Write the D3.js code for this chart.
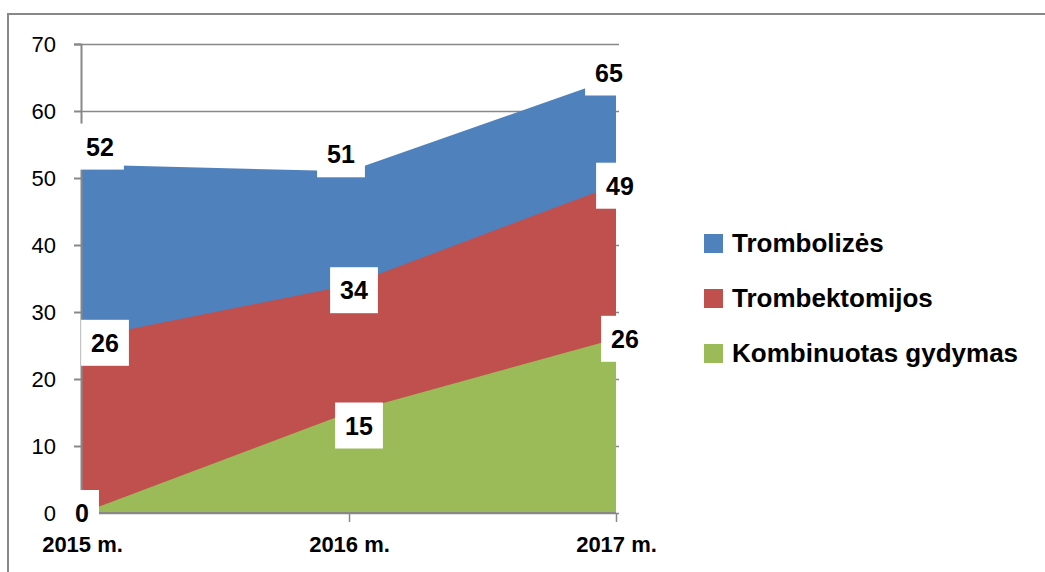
<!DOCTYPE html>
<html>
<head>
<meta charset="utf-8">
<script src="https://cdn.jsdelivr.net/npm/d3@7"></script>
<style>
  body { margin: 0; background: #fff; }
  svg { display: block; font-family: "Liberation Sans", Arial, sans-serif; }
</style>
</head>
<body>
<svg id="chart" width="1045" height="572"></svg>
<script>
// data
var years = ["2015 m.", "2016 m.", "2017 m."];
var seriesNames = ["Trombolizės", "Trombektomijos", "Kombinuotas gydymas"];
var trombolizes = [52, 51, 65];
var trombektomijos = [26, 34, 49];
var kombinuotas = [0, 15, 26];
var yTicks = [0, 10, 20, 30, 40, 50, 60, 70];

var colors = ["#4F81BD", "#C0504D", "#9BBB59"];

// label box nudges from the point, [dx, dy] per series per year
var nudges = [
	[[18, -18], [-8, -17], [-7, -5]],
	[[23, 4], [5, 5], [4, 1]],
	[[0, 0], [10, 13], [9, 0]]
];

var svg = d3.select("#chart");

// outer chart border (only top and left are in view)
svg.append("path")
	.attr("d", "M8,572 L8,14 L1045,14")
	.attr("fill", "none")
	.attr("stroke", "#888")
	.attr("stroke-width", 2);

var xScale = d3.scalePoint()
	.domain(years)
	.range([82, 616]);

var yScale = d3.scaleLinear()
	.domain([0, 70])
	.range([513, 44]);

// gridlines
svg.append("g")
	.selectAll("line")
	.data(yTicks)
	.enter()
	.append("line")
	.attr("x1", 82)
	.attr("x2", 619)
	.attr("y1", d => Math.round(yScale(d)) + 0.5)
	.attr("y2", d => Math.round(yScale(d)) + 0.5)
	.attr("stroke", "#888")
	.attr("stroke-width", 1.5);

var series = [trombolizes, trombektomijos, kombinuotas];

var area = d3.area()
	.x((d, i) => xScale(years[i]))
	.y0(yScale(0))
	.y1(d => yScale(d));

// areas overlap, first series at the back
svg.append("g")
	.selectAll("path")
	.data(series)
	.enter()
	.append("path")
	.attr("d", d => area(d))
	.attr("fill", (d, i) => colors[i]);

// y axis
var yAxis = svg.append("g")
	.attr("transform", "translate(81,0)")
	.call(d3.axisLeft(yScale).tickValues(yTicks).tickSize(7).tickPadding(18));
yAxis.selectAll("line, path").attr("stroke", "#888").attr("stroke-width", 2);
yAxis.selectAll("text")
	.attr("fill", "#000")
	.style("font-size", "22px")
	.style("font-family", "Liberation Sans, Arial, sans-serif");

// x axis
var xAxis = svg.append("g")
	.attr("transform", "translate(0,513)")
	.call(d3.axisBottom(xScale).tickSize(9).tickSizeOuter(0).tickPadding(14));
xAxis.select("path").attr("stroke", "#888").attr("stroke-width", 2)
	.attr("d", "M81,0H616");
xAxis.selectAll("line").attr("stroke", "#888").attr("stroke-width", 1.5);
xAxis.selectAll("text")
	.attr("fill", "#000")
	.style("font-size", "22px")
	.style("font-weight", "bold")
	.style("font-family", "Liberation Sans, Arial, sans-serif");

// data labels in white boxes
var labelData = [];
series.forEach(function(s, si) {
	s.forEach(function(v, yi) {
		labelData.push({
			value: v,
			x: xScale(years[yi]) + nudges[si][yi][0],
			y: yScale(v) + nudges[si][yi][1]
		});
	});
});

var labels = svg.append("g")
	.selectAll("g")
	.data(labelData)
	.enter()
	.append("g")
	.attr("transform", d => `translate(${d.x},${d.y})`);

var labelRects = labels.append("rect").attr("fill", "#fff");

labels.append("text")
	.attr("text-anchor", "middle")
	.attr("dy", "0.36em")
	.style("font-size", "25px")
	.style("font-weight", "bold")
	.text(d => d.value);

labels.each(function() {
	var g = d3.select(this);
	var w = g.select("text").node().getComputedTextLength() + 20;
	g.select("rect")
		.attr("x", -w / 2)
		.attr("y", -23)
		.attr("width", w)
		.attr("height", 46);
});

// legend
var legend = svg.append("g")
	.selectAll("g")
	.data(seriesNames)
	.enter()
	.append("g")
	.attr("transform", (d, i) => `translate(704,${243 + i * 55})`);

legend.append("rect")
	.attr("x", 0)
	.attr("y", -9)
	.attr("width", 19)
	.attr("height", 19)
	.attr("fill", (d, i) => colors[i]);

legend.append("text")
	.attr("x", 28)
	.attr("dy", "0.36em")
	.style("font-size", "26px")
	.style("font-weight", "bold")
	.text(d => d);
</script>
</body>
</html>
